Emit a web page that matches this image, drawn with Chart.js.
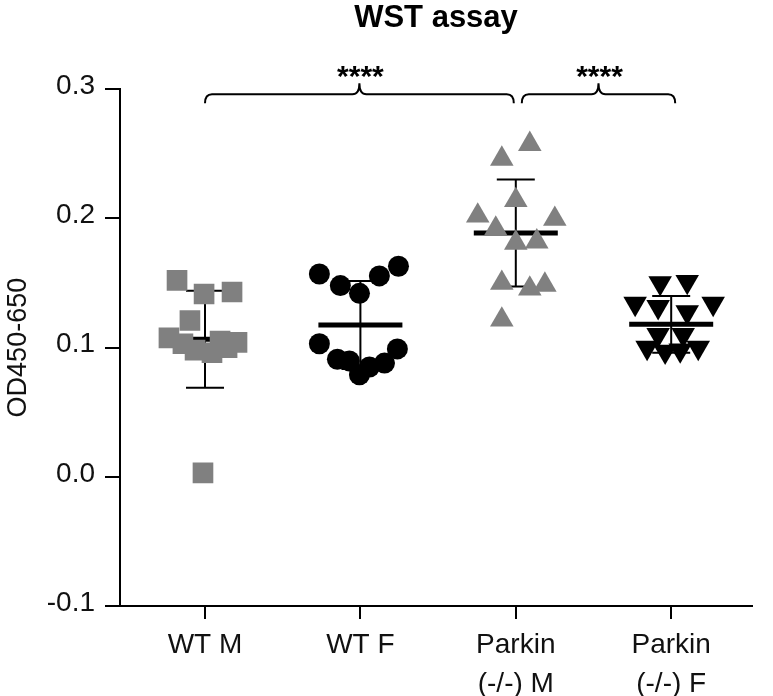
<!DOCTYPE html>
<html>
<head>
<meta charset="utf-8">
<script src="https://cdn.jsdelivr.net/npm/chart.js@4/dist/chart.umd.min.js"></script>
<style>
  html, body { margin: 0; padding: 0; background: #fff; }
  #c { display: block; }
</style>
</head>
<body>
<canvas id="c" width="773" height="696"></canvas>
<script>
// ---------------- data ----------------
const categories = ["WT M", "WT F", ["Parkin", "(-/-) M"], ["Parkin", "(-/-) F"]];
const yTicks = [-0.1, 0.0, 0.1, 0.2, 0.3];

const wtM   = [0.152, 0.1415, 0.143, 0.121, 0.1075, 0.103, 0.098, 0.096, 0.105, 0.104, 0.100, 0.003];
const wtMJitter = [-0.18, -0.006, 0.174, -0.097, -0.232, -0.142, -0.064, 0.045, 0.097, 0.206, 0.142, -0.013];

const wtF   = [0.157, 0.148, 0.142, 0.1555, 0.163, 0.103, 0.091, 0.0897, 0.079, 0.085, 0.088, 0.099];
const wtFJitter = [-0.264, -0.129, -0.006, 0.122, 0.245, -0.264, -0.148, -0.071, -0.006, 0.058, 0.155, 0.238];

const parkM = [0.246, 0.2575, 0.214, 0.202, 0.1995, 0.192, 0.181, 0.182, 0.150, 0.1455, 0.1485, 0.1215];
const parkMJitter = [-0.09, 0.09, 0, -0.245, 0.251, -0.129, 0, 0.135, -0.09, 0.09, 0.187, -0.09];

const parkF = [0.150, 0.151, 0.134, 0.1315, 0.1275, 0.134, 0.110, 0.110, 0.100, 0.097, 0.098, 0.100];
const parkFJitter = [-0.071, 0.103, -0.232, -0.084, 0.103, 0.27, -0.084, 0.077, -0.155, -0.039, 0.058, 0.174];

const groupMeans = [0.1065, 0.1175, 0.1887, 0.118];
const groupSDs   = [0.0375, 0.034, 0.0415, 0.022];

// significance comparisons: [from category, to category, label]
const comparisons = [[0, 2, "****"], [2, 3, "****"]];

// ---------------- build ----------------
const FONT = "'Liberation Sans', Arial, Helvetica, sans-serif";
const GREY = "#808080";
const BLACK = "#000000";

function pts(vals, jit, idx) {
  return vals.map((v, j) => ({ x: idx + jit[j], y: v }));
}

const errorBarPlugin = {
  id: "errorBars",
  beforeDatasetsDraw(chart) {
    const { ctx, scales: { x, y } } = chart;
    ctx.save();
    ctx.strokeStyle = BLACK;
    groupMeans.forEach((m, i) => {
      const cx = x.getPixelForValue(i);
      const yM = y.getPixelForValue(m);
      const yT = y.getPixelForValue(m + groupSDs[i]);
      const yB = y.getPixelForValue(m - groupSDs[i]);
      ctx.lineWidth = 2;
      ctx.beginPath();
      ctx.moveTo(cx, yT); ctx.lineTo(cx, yB);
      ctx.moveTo(cx - 19, yT); ctx.lineTo(cx + 19, yT);
      ctx.moveTo(cx - 19, yB); ctx.lineTo(cx + 19, yB);
      ctx.stroke();
      ctx.lineWidth = 5;
      ctx.beginPath();
      ctx.moveTo(cx - 42, yM); ctx.lineTo(cx + 42, yM);
      ctx.stroke();
    });
    ctx.restore();
  }
};

function brace(ctx, x1, x2, yLine, down, up) {
  const xm = (x1 + x2) / 2;
  const r = 7;
  ctx.beginPath();
  ctx.moveTo(x1, yLine + down);
  ctx.quadraticCurveTo(x1, yLine, x1 + r, yLine);
  ctx.lineTo(xm - r, yLine);
  ctx.quadraticCurveTo(xm, yLine, xm, yLine - up);
  ctx.quadraticCurveTo(xm, yLine, xm + r, yLine);
  ctx.lineTo(x2 - r, yLine);
  ctx.quadraticCurveTo(x2, yLine, x2, yLine + down);
  ctx.stroke();
}

const bracketPlugin = {
  id: "brackets",
  afterDraw(chart) {
    const { ctx, scales: { x }, chartArea } = chart;
    const yLine = chartArea.top + 5;
    ctx.save();
    ctx.strokeStyle = BLACK;
    ctx.lineWidth = 2;
    ctx.fillStyle = BLACK;
    ctx.font = "bold 30px " + FONT;
    ctx.textAlign = "center";
    ctx.textBaseline = "alphabetic";
    comparisons.forEach(([a, b, label], k) => {
      const x1 = x.getPixelForValue(a) + (k === 0 ? 0 : 6);
      const x2 = x.getPixelForValue(b) + (k === 0 ? -2 : 4);
      brace(ctx, x1, x2, yLine, 9, 11);
      ctx.fillText(label, (x1 + x2) / 2 + 1, yLine - 8);
    });
    ctx.restore();
  }
};

const chart = new Chart(document.getElementById("c"), {
  type: "scatter",
  data: {
    datasets: [
      { label: "WT M", data: pts(wtM, wtMJitter, 0), pointStyle: "rect", pointRadius: 14.6,
        backgroundColor: GREY, borderColor: GREY, borderWidth: 0 },
      { label: "WT F", data: pts(wtF, wtFJitter, 1), pointStyle: "circle", pointRadius: 10.5,
        backgroundColor: BLACK, borderColor: BLACK, borderWidth: 0 },
      { label: "Parkin (-/-) M", data: pts(parkM, parkMJitter, 2), pointStyle: "triangle", pointRadius: 13.6,
        backgroundColor: GREY, borderColor: GREY, borderWidth: 0 },
      { label: "Parkin (-/-) F", data: pts(parkF, parkFJitter, 3), pointStyle: "triangle", pointRotation: 180, pointRadius: 13.6,
        backgroundColor: BLACK, borderColor: BLACK, borderWidth: 0 }
    ]
  },
  options: {
    responsive: false,
    animation: false,
    events: [],
    layout: { padding: { left: 0, right: 21, top: 0, bottom: 0 } },
    plugins: {
      legend: { display: false },
      tooltip: { enabled: false },
      title: {
        display: true,
        fullSize: false,
        text: "WST assay",
        color: BLACK,
        font: { family: FONT, size: 31, weight: "bold" },
        padding: { top: 0, bottom: 52 }
      }
    },
    scales: {
      x: {
        type: "linear",
        min: -0.547,
        max: 3.52,
        afterBuildTicks(s) { s.ticks = categories.map((_, i) => ({ value: i })); },
        afterFit(s) { s.height = 90; },
        ticks: {
          callback: (v) => categories[v],
          color: "#111",
          font: { family: FONT, size: 28, lineHeight: 1.42 },
          padding: 6,
          maxRotation: 0,
          autoSkip: false
        },
        grid: { drawOnChartArea: false, drawTicks: true, tickLength: 13, color: BLACK, lineWidth: 2 },
        border: { display: true, color: BLACK, width: 2 }
      },
      y: {
        min: -0.1,
        max: 0.3,
        afterBuildTicks(s) { s.ticks = yTicks.map(v => ({ value: v })); },
        afterFit(s) { s.width = 120; },
        ticks: {
          callback: (v) => v.toFixed(1),
          color: "#111",
          font: { family: FONT, size: 28 },
          padding: 10,
          labelOffset: -3
        },
        grid: { drawOnChartArea: false, drawTicks: true, tickLength: 15, color: BLACK, lineWidth: 2 },
        border: { display: true, color: BLACK, width: 2 },
        title: {
          display: true,
          text: "OD450-650",
          color: "#111",
          font: { family: FONT, size: 27 },
          padding: { top: 2, bottom: 0 }
        }
      }
    }
  },
  plugins: [errorBarPlugin, bracketPlugin]
});
</script>
</body>
</html>
